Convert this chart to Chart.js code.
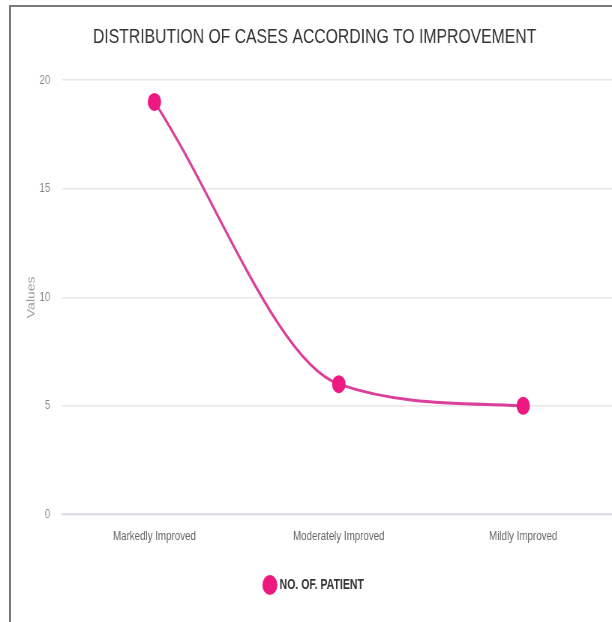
<!DOCTYPE html>
<html>
<head>
<meta charset="utf-8">
<script src="https://cdn.jsdelivr.net/npm/chart.js@4/dist/chart.umd.min.js"></script>
<style>
  html, body { margin: 0; padding: 0; background: #fff; overflow: hidden; width: 612px; height: 622px; }
  #frame {
    position: absolute; left: 9px; top: 5px; width: 640px; height: 640px;
    border-left: 2px solid #7a7a7a; border-top: 2px solid #7a7a7a;
  }
  #squeeze {
    position: absolute; left: 1px; top: 0px;
    width: 815px; height: 615px;
    transform: scaleX(0.75); transform-origin: 0 0;
  }
</style>
</head>
<body>
<div id="frame">
  <div id="squeeze"><canvas id="c" width="815" height="615"></canvas></div>
</div>
<script>
const categories = ["Markedly Improved", "Moderately Improved", "Mildly Improved"];
const patientCounts = [19, 6, 5];
const seriesName = "NO. OF. PATIENT";
const chartTitle = "DISTRIBUTION OF CASES ACCORDING TO IMPROVEMENT";
const yTicks = [0, 5, 10, 15, 20];

const FONT = "'Liberation Sans', Arial, sans-serif";

new Chart(document.getElementById("c"), {
  type: "line",
  data: {
    labels: categories,
    datasets: [{
      label: seriesName,
      data: patientCounts,
      borderColor: "#db3f9c",
      borderWidth: 3,
      backgroundColor: "#ec1a80",
      pointBackgroundColor: "#ec1a80",
      pointBorderColor: "#ec1a80",
      pointRadius: 7.5,
      pointHoverRadius: 7.5,
      cubicInterpolationMode: "monotone",
      fill: false
    }]
  },
  options: {
    responsive: false,
    animation: false,
    layout: { padding: { left: 0, right: 8, top: 0, bottom: 20 } },
    plugins: {
      title: {
        display: true,
        text: chartTitle,
        color: "#333",
        font: { family: FONT, size: 21, weight: "normal" },
        padding: { top: 18, bottom: 30 }
      },
      legend: {
        position: "bottom",
        labels: {
          usePointStyle: true,
          pointStyle: "circle",
          boxWidth: 12,
          boxHeight: 12,
          color: "#333",
          font: { family: FONT, size: 14, weight: "600" },
          padding: 10
        }
      },
      tooltip: { enabled: false }
    },
    scales: {
      x: {
        offset: true,
        grid: { display: false },
        border: { display: true, color: "#dcdde3", width: 2 },
        afterFit: (s) => { s.height += 18; },
        ticks: { color: "#666", font: { family: FONT, size: 13 }, padding: 6 }
      },
      y: {
        min: 0,
        max: 20,
        afterBuildTicks: (s) => { s.ticks = yTicks.map(v => ({ value: v })); },
        afterFit: (s) => { s.width = 67; },
        grid: { color: "#e8e8ea", lineWidth: 1.5, drawTicks: false },
        border: { display: false },
        title: {
          display: true,
          text: "Values",
          color: "#9a9a9a",
          font: { family: FONT, size: 14 },
          padding: { top: 18, bottom: 0 }
        },
        ticks: { color: "#888", font: { family: FONT, size: 13 }, padding: 16 }
      }
    }
  }
});
</script>
</body>
</html>
